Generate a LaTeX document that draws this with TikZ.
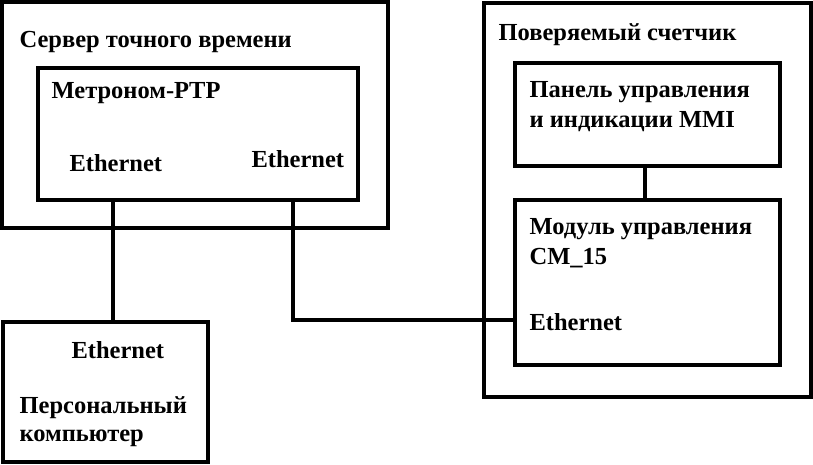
\documentclass[tikz,border=0pt]{standalone}
\usepackage{fontspec}
\setmainfont{Liberation Serif}
\begin{document}
\begin{tikzpicture}[x=1pt,y=-1pt,line width=3.2pt,
  box/.style={draw,line join=miter},
  lbl/.style={anchor=base west,inner sep=0pt,font=\fontsize{24.5}{28}\selectfont\bfseries}]
\useasboundingbox (0,0) rectangle (813,464);
\draw[box] (2,2) rectangle (388,228);
\draw[box] (38,68) rectangle (358,200);
\draw[box] (484,3) rectangle (811,397);
\draw[box] (515,63) rectangle (780,166);
\draw[box] (515,200) rectangle (780,365);
\draw[box] (3,322) rectangle (208,462);
\coordinate (e1) at (113,200);
\coordinate (p1) at (113,322);
\coordinate (e2) at (293,200);
\coordinate (m1) at (515,320);
\coordinate (pa) at (645,166);
\coordinate (mo) at (645,200);
\draw (e1) -- (p1);
\draw (e2) |- (m1);
\draw (pa) -- (mo);
\node[lbl] (t1) at (18,47) {Сервер точного времени};
\node[lbl] (t2) at (50,98) {Метроном-PTP};
\node[lbl] (t3) at (68,171) {Ethernet};
\node[lbl] (t4) at (250,167) {Ethernet};
\node[lbl] (t5) at (497,40) {Поверяемый счетчик};
\node[lbl] (t6) at (528,97) {Панель управления};
\node[lbl] (t7) at (528,127) {и индикации MMI};
\node[lbl] (t8) at (528,234) {Модуль управления};
\node[lbl] (t9) at (528,264) {CM\_15};
\node[lbl] (t10) at (528,330) {Ethernet};
\node[lbl] (t11) at (70,358) {Ethernet};
\node[lbl] (t12) at (18,413) {Персональный};
\node[lbl] (t13) at (18,441) {компьютер};
\end{tikzpicture}
\end{document}
